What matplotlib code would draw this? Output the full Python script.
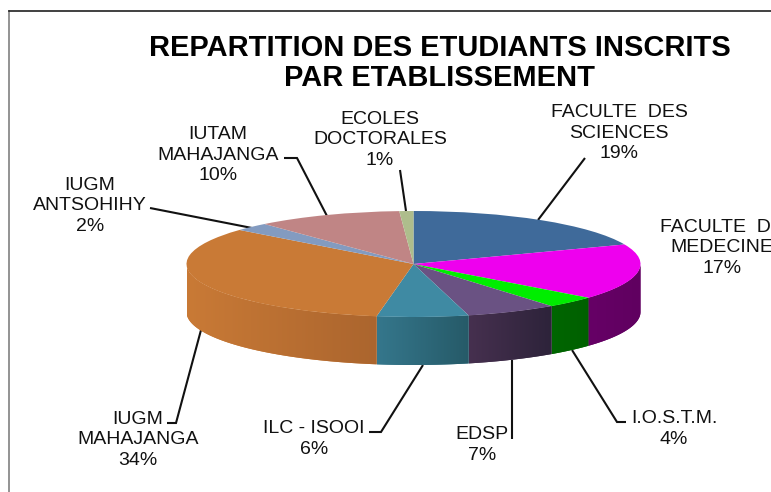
#!/usr/bin/env python3
import numpy as np
from matplotlib import pyplot as plt
from matplotlib.colors import LinearSegmentedColormap

# wedge sizes, labels keep the rounded percents
etablissements = ['FACULTE  DES\nSCIENCES', 'FACULTE  DE\nMEDECINE', 'I.O.S.T.M.', 'EDSP', 'ILC - ISOOI',
                  'IUGM\nMAHAJANGA', 'IUGM\nANTSOHIHY', 'IUTAM\nMAHAJANGA', 'ECOLES\nDOCTORALES']
parts = [19.0, 17.0, 3.6, 6.5, 6.5, 33.5, 2.5, 10.4, 1.0]
pourcents = [19, 17, 4, 7, 6, 34, 2, 10, 1]

top_colors = ['#3f6a9a', '#ee00ee', '#00ee00', '#6a5283', '#3f8aa3', '#c97a36', '#839bc0', '#c08585', '#aebd8c']
side_left = ['#3f6a9a', '#660066', '#006600', '#46304f', '#35778c', '#c97a36', '#839bc0', '#c08585', '#aebd8c']
side_right = ['#3f6a9a', '#600060', '#006000', '#2d233a', '#265a68', '#ab652e', '#839bc0', '#c08585', '#aebd8c']

W, H = 771, 492
CX, CY, RX, RY, DEPTH = 413.5, 264, 227, 53, 48

fig = plt.figure(figsize=(W / 100, H / 100), dpi=100)
plt.rcParams['font.family'] = 'Liberation Sans'

bg = fig.add_axes([0, 0, 1, 1])
bg.set_xlim(0, W)
bg.set_ylim(H, 0)
bg.axis('off')

# chart frame
bg.plot([9, 9], [11, H], color='#808080', lw=1.2)
bg.plot([9, W], [11, 11], color='#202020', lw=1.2)

# leader lines, drawn under the pie
leaders = [
    ([538, 585], [220, 158]),
    ([406, 400], [211, 170]),
    ([327, 297, 284], [216, 158, 158]),
    ([252, 150], [228, 208]),
    ([201, 176, 167], [330, 423, 423]),
    ([423, 381, 369], [365, 432, 432]),
    ([512, 512], [360, 439]),
    ([572, 617, 626], [350, 422, 422]),
]
for xs, ys in leaders:
    bg.plot(xs, ys, color='#111111', lw=1.5, solid_capstyle='butt', solid_joinstyle='miter')

# pie axes: one data unit is RX wide and RY tall so the circle is flattened
pie_top = 1 - (CY - RY) / H
depth_u = DEPTH / RY
pie_h = (2 * RY + DEPTH) / H
ax = fig.add_axes([(CX - RX) / W, pie_top - pie_h, 2 * RX / W, pie_h])
ax.patch.set_alpha(0)

# side wall of the front half, each piece is a gradient clipped to its outline
edges = np.cumsum([0] + parts) / sum(parts) * 360
for i in range(len(parts)):
    a0, a1 = max(edges[i], 90), min(edges[i + 1], 270)
    if a1 <= a0:
        continue
    th = np.radians(np.linspace(a0, a1, 80))
    xs, ys = np.sin(th), np.cos(th)
    outline, = ax.fill(np.r_[xs, xs[::-1]], np.r_[ys, ys[::-1] - depth_u], color=side_left[i], lw=0, zorder=1)
    cmap = LinearSegmentedColormap.from_list('side', [side_left[i], side_right[i]])
    im = ax.imshow(np.linspace(0, 1, 256).reshape(1, -1), cmap=cmap, aspect='auto', zorder=2,
                   extent=(xs.min(), xs.max(), -1 - depth_u, 1), interpolation='bilinear')
    im.set_clip_path(outline)

wedges, _ = ax.pie(parts, colors=top_colors, startangle=90, counterclock=False,
                   wedgeprops={'linewidth': 0})
for w in wedges:
    w.set_zorder(3)
ax.set_aspect('auto')
ax.set_xlim(-1, 1)
ax.set_ylim(-1 - depth_u, 1)
ax.axis('off')

# data labels
label_x = [619, 722, 674, 482, 314, 138, 90, 218, 380]
label_y = [133, 248, 429, 445, 439, 440, 206, 155, 140]
for name, p, x, y in zip(etablissements, pourcents, label_x, label_y):
    bg.text(x, y, '%s\n%d%%' % (name, p), ha='center', va='center', fontsize=14,
            linespacing=1.24, color='#111111', clip_on=True)

bg.text(440, 63, 'REPARTITION DES ETUDIANTS INSCRITS\nPAR ETABLISSEMENT', ha='center', va='center',
        fontsize=20.9, fontweight='bold', linespacing=1.06, color='black')

fig.savefig('out.png', dpi=100)
